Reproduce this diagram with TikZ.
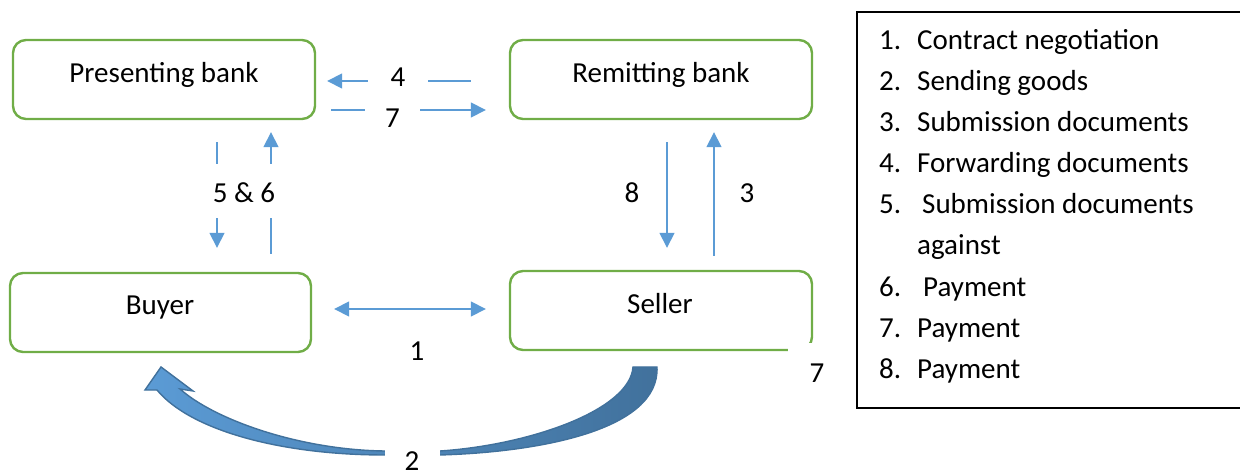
\documentclass[tikz,border=0pt]{standalone}
\usepackage{fontspec}
\setmainfont{Carlito}
\usetikzlibrary{arrows.meta}
\definecolor{boxgreen}{HTML}{70AD47}
\definecolor{arrowblue}{HTML}{5B9BD5}
\definecolor{darkblue}{HTML}{41719C}
\begin{document}
\begin{tikzpicture}[x=1pt,y=-1pt,
  font=\fontsize{29}{35}\selectfont,
  party/.style={draw=boxgreen, line width=2.4pt, rounded corners=13pt,
    minimum height=79pt, inner sep=0pt},
  caption/.style={inner sep=0pt, anchor=base},
  tag/.style={fill=white, inner sep=0pt, anchor=base, align=center},
  flow/.style={draw=arrowblue, line width=1.6pt, -{Triangle[length=15pt,width=15pt]}},
  twoway/.style={draw=arrowblue, line width=1.6pt,
    {Triangle[length=15pt,width=15pt]}-{Triangle[length=15pt,width=15pt]}},
  legendbox/.style={draw=black, line width=1.5pt, inner sep=0pt},
  item/.style={inner sep=0pt, anchor=base west}]
\useasboundingbox (0,0) rectangle (1240,470);

% parties
\node[party, minimum width=302pt] (pb) at (164,79.5) {};
\node[party, minimum width=302pt] (rb) at (661,79.5) {};
\node[party, minimum width=301pt] (buyer) at (160.5,312.5) {};
\node[party, minimum width=302pt] (seller) at (661,310.5) {};
\node[caption] (pbt) at (164,83) {Presenting bank};
\node[caption] (rbt) at (661,83) {Remitting bank};
\node[caption] (buyert) at (160,315) {Buyer};
\node[caption] (sellert) at (660,314) {Seller};

% document and payment flows
\draw[flow, shorten <=38pt, shorten >=11pt]
  ([yshift=-1.5pt]rb.west) -- ([yshift=-1.5pt]pb.east);
\draw[flow, shorten <=15pt, shorten >=23pt]
  ([yshift=-30.5pt]pb.east) -- ([yshift=-30.5pt]rb.west);
\draw[flow, shorten <=22pt, shorten >=24pt]
  ([xshift=53pt]pb.south) -- ([xshift=53pt]pb.south |- buyer.north);
\draw[flow, shorten <=18pt, shorten >=12pt]
  ([xshift=107pt]pb.south |- buyer.north) -- ([xshift=107pt]pb.south);
\draw[flow, shorten <=22pt, shorten >=22pt]
  ([xshift=6pt]rb.south) -- ([xshift=6pt]seller.north);
\draw[flow, shorten <=14pt, shorten >=12pt]
  ([xshift=53pt]seller.north) -- ([xshift=53pt]rb.south);
\draw[twoway, shorten <=22pt, shorten >=23pt]
  ([yshift=3.5pt]buyer.east) -- ([yshift=3.5pt]buyer.east -| seller.west);

% shipment of goods: curved block arrow from seller to buyer
\shadedraw[left color=arrowblue, right color=darkblue, draw=darkblue, line width=1.4pt, line join=miter]
  (657,367) .. controls (660,430) and (540,452) .. (440,455)
  -- (385,455) .. controls (280,455) and (190,430) .. (157,390)
  -- (145,390) -- (161,367) -- (193,391) -- (180,389)
  .. controls (215,420) and (300,450) .. (385,451)
  -- (440,451) .. controls (530,445) and (630,410) .. (633,367)
  -- cycle;

% step numbers
\node[tag, minimum width=60pt] (n4) at (398,87) {4};
\node[tag, minimum width=55pt] (n7) at (392.5,128) {7};
\node[tag, minimum width=70pt, text height=39pt, text depth=15pt] (n56) at (244,203) {5 \& 6};
\node[tag] (n8) at (632,203) {8};
\node[tag] (n3) at (747,203) {3};
\node[tag] (n1) at (417,360) {1};
\node[tag, minimum width=58pt, text height=39pt, text depth=12pt] (n7b) at (817,382) {7};
\node[tag, minimum width=55pt, text height=25pt, text depth=8pt] (n2) at (412,470) {2};

% legend
\node[legendbox, minimum width=389pt, minimum height=396pt] (legend) at (1051.5,210) {};
\node[item] (k1) at (879,50) {1.};
\node[item] (t1) at (917,50) {Contract negotiation};
\node[item] (k2) at (879,91) {2.};
\node[item] (t2) at (917,91) {Sending goods};
\node[item] (k3) at (879,132) {3.};
\node[item] (t3) at (917,132) {Submission documents};
\node[item] (k4) at (879,173) {4.};
\node[item] (t4) at (917,173) {Forwarding documents};
\node[item] (k5) at (879,214) {5.};
\node[item] (t5) at (922,214) {Submission documents};
\node[item] (t5b) at (917,255) {against};
\node[item] (k6) at (879,296.5) {6.};
\node[item] (t6) at (923,296.5) {Payment};
\node[item] (k7) at (879,337.5) {7.};
\node[item] (t7) at (917,337.5) {Payment};
\node[item] (k8) at (879,378.5) {8.};
\node[item] (t8) at (917,378.5) {Payment};
\end{tikzpicture}
\end{document}
